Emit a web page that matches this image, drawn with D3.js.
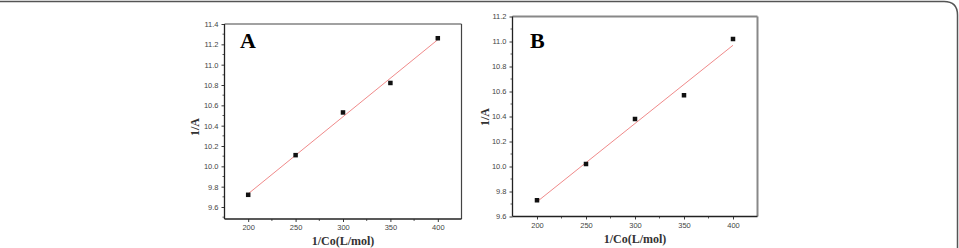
<!DOCTYPE html>
<html>
<head>
<meta charset="utf-8">
<script src="https://cdn.jsdelivr.net/npm/d3@7"></script>
<style>
html,body{margin:0;padding:0;background:#fff;}
svg{display:block;}
</style>
</head>
<body>
<svg id="chart" width="959" height="248"></svg>
<script>
const xValues = [200, 250, 300, 350, 400];
const seriesA = [9.72, 10.11, 10.53, 10.82, 11.26];
const seriesB = [9.73, 10.02, 10.38, 10.57, 11.02];
const xTicks = [200, 250, 300, 350, 400];
const yTicksA = [9.6, 9.8, 10.0, 10.2, 10.4, 10.6, 10.8, 11.0, 11.2, 11.4];
const yTicksB = [9.6, 9.8, 10.0, 10.2, 10.4, 10.6, 10.8, 11.0, 11.2];
const panelLabels = ["A", "B"];
const xTitle = "1/Co(L/mol)";
const yTitle = "1/A";

const svg = d3.select("#chart");

// outer frame (top line + right edge with rounded corner)
svg.append("path")
  .attr("d", "M0,1.5 L944,1.5 Q957.5,1.5 957.5,15 L957.5,248")
  .attr("fill", "none").attr("stroke", "#555").attr("stroke-width", 1.5);

function regression(xs, ys) {
  const mx = d3.mean(xs), my = d3.mean(ys);
  let num = 0, den = 0;
  xs.forEach((x, i) => { num += (x - mx) * (ys[i] - my); den += (x - mx) * (x - mx); });
  const b = num / den;
  return { a: my - b * mx, b };
}

function panel(cfg) {
  const g = svg.append("g");
  const x = d3.scaleLinear().domain([175, 425]).range([cfg.left, cfg.right]);
  const y = d3.scaleLinear().domain(cfg.yDomain).range([cfg.bottom, cfg.top]);

  // frame top & right
  g.append("line").attr("x1", cfg.left).attr("x2", cfg.right).attr("y1", cfg.top).attr("y2", cfg.top)
    .attr("stroke", cfg.frameColor).attr("stroke-width", cfg.frameWidth);
  g.append("line").attr("x1", cfg.right).attr("x2", cfg.right).attr("y1", cfg.top).attr("y2", cfg.bottom)
    .attr("stroke", cfg.frameColor).attr("stroke-width", cfg.frameWidth);

  // minor ticks
  const xMinor = xTicks.map(v => v + 25).filter(v => v < 425);
  g.append("g").selectAll("line").data(xMinor).join("line")
    .attr("x1", d => x(d)).attr("x2", d => x(d)).attr("y1", cfg.bottom).attr("y2", cfg.bottom + 2)
    .attr("stroke", "#333").attr("stroke-width", 0.8);
  const yMinor = cfg.yTicks.map(v => v + 0.1).filter(v => v < cfg.yDomain[1]);
  if (cfg.yDomain[0] < cfg.yTicks[0] - 0.1) yMinor.push(cfg.yTicks[0] - 0.1);
  g.append("g").selectAll("line").data(yMinor).join("line")
    .attr("x1", cfg.left).attr("x2", cfg.left - 2).attr("y1", d => y(d)).attr("y2", d => y(d))
    .attr("stroke", "#333").attr("stroke-width", 0.8);

  const xAxis = g.append("g").attr("transform", `translate(0,${cfg.bottom})`)
    .call(d3.axisBottom(x).tickValues(xTicks).tickSize(3).tickPadding(3).tickSizeOuter(0).tickFormat(d3.format("d")));
  const yAxis = g.append("g").attr("transform", `translate(${cfg.left},0)`)
    .call(d3.axisLeft(y).tickValues(cfg.yTicks).tickSize(3).tickPadding(3).tickSizeOuter(0).tickFormat(d3.format(".1f")));
  [xAxis, yAxis].forEach(ax => {
    ax.select(".domain").attr("stroke", "#222").attr("stroke-width", 1.3);
    ax.selectAll(".tick line").attr("stroke", "#222").attr("stroke-width", 0.9);
    ax.selectAll("text").attr("font-family", "Liberation Sans, Arial, sans-serif")
      .attr("font-size", 7.5).attr("fill", "#444");
  });
  xAxis.select(".domain").attr("d", `M${cfg.left},0H${cfg.right}`);
  yAxis.select(".domain").attr("d", `M0,${cfg.bottom}V${cfg.top}`);

  // fit line
  const r = regression(xValues, cfg.data);
  g.append("line")
    .attr("x1", x(200)).attr("y1", y(r.a + r.b * 200))
    .attr("x2", x(400)).attr("y2", y(r.a + r.b * 400))
    .attr("stroke", "#f08a8a").attr("stroke-width", 1);

  // markers
  g.append("g").selectAll("rect").data(xValues).join("rect")
    .attr("x", (d) => x(d) - 2.25).attr("y", (d, i) => y(cfg.data[i]) - 2.25)
    .attr("width", 4.5).attr("height", 4.5).attr("fill", "#111");

  // panel letter
  g.append("text").attr("x", cfg.letterX).attr("y", 48)
    .attr("font-family", "Liberation Serif, Times New Roman, serif").attr("font-weight", "bold")
    .attr("font-size", 22).attr("fill", "#000").text(cfg.letter);

  // axis titles
  g.append("text").attr("x", (cfg.left + cfg.right) / 2).attr("y", cfg.xTitleY)
    .attr("text-anchor", "middle")
    .attr("font-family", "Liberation Serif, Times New Roman, serif").attr("font-weight", "bold")
    .attr("font-size", 12).attr("fill", "#333").text(xTitle);
  g.append("text")
    .attr("transform", `translate(${cfg.yTitleX},${cfg.yTitleY}) rotate(-90)`)
    .attr("text-anchor", "middle")
    .attr("font-family", "Liberation Serif, Times New Roman, serif").attr("font-weight", "bold")
    .attr("font-size", 12).attr("fill", "#333").text(yTitle);
}

panel({
  left: 224.5, right: 461.5, top: 24, bottom: 219,
  yDomain: [9.482, 11.4], yTicks: yTicksA, data: seriesA,
  frameColor: "#444", frameWidth: 1.2,
  letter: panelLabels[0], letterX: 240,
  xTitleY: 245, yTitleX: 199, yTitleY: 127
});
panel({
  left: 512.5, right: 757.5, top: 16.5, bottom: 216.5,
  yDomain: [9.6, 11.2], yTicks: yTicksB, data: seriesB,
  frameColor: "#888", frameWidth: 2,
  letter: panelLabels[1], letterX: 530,
  xTitleY: 243, yTitleX: 489, yTitleY: 117
});
</script>
</body>
</html>
